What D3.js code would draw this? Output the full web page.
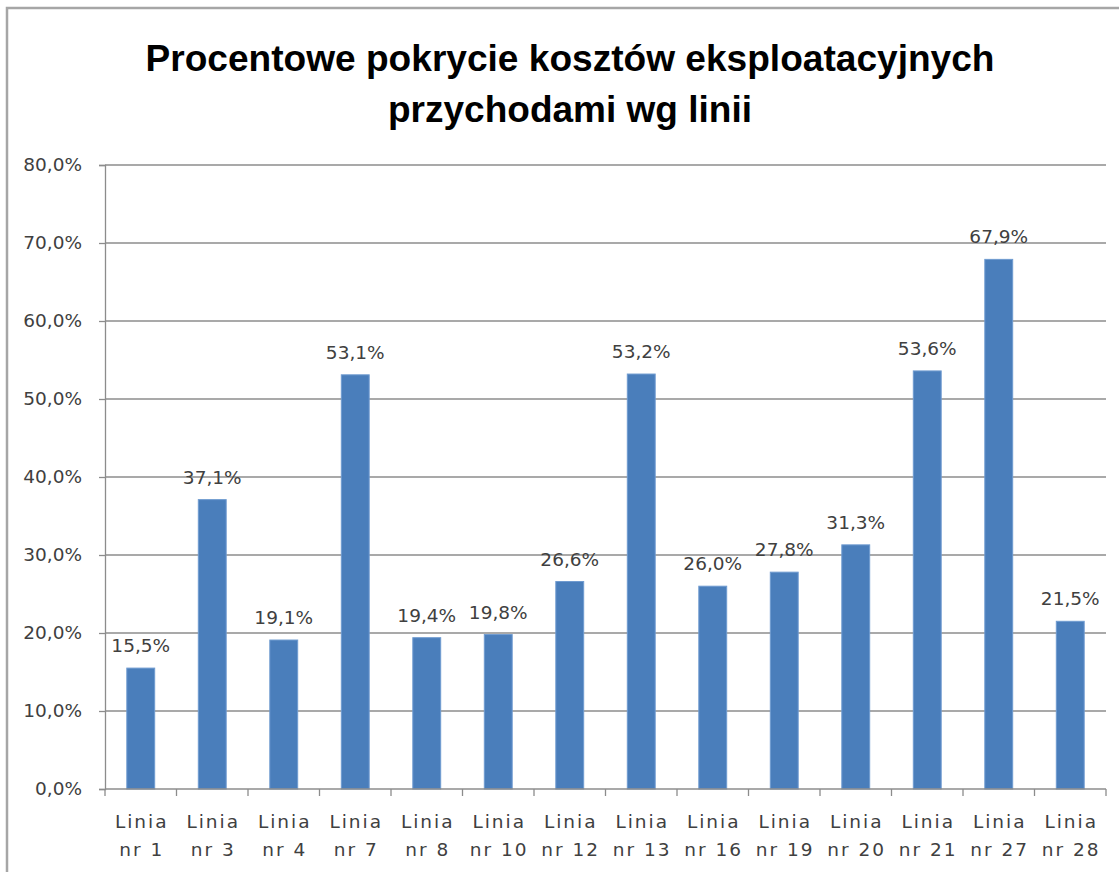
<!DOCTYPE html>
<html>
<head>
<meta charset="utf-8">
<script src="https://cdn.jsdelivr.net/npm/d3@7"></script>
<style>
  html, body { margin: 0; padding: 0; background: #fff; }
  svg { display: block; }
</style>
</head>
<body>
<svg id="chart" width="1119" height="872"></svg>
<script>
const titleLines = ["Procentowe pokrycie kosztów eksploatacyjnych", "przychodami wg linii"];
const categories = ["nr 1", "nr 3", "nr 4", "nr 7", "nr 8", "nr 10", "nr 12", "nr 13", "nr 16", "nr 19", "nr 20", "nr 21", "nr 27", "nr 28"];
const values = [15.5, 37.1, 19.1, 53.1, 19.4, 19.8, 26.6, 53.2, 26.0, 27.8, 31.3, 53.6, 67.9, 21.5];
const yTicks = [0, 10, 20, 30, 40, 50, 60, 70, 80];

(function () {
const svg = d3.select("#chart");
const pLeft = 105, pRight = 1106, pTop = 165, pBottom = 789;

const fmt = v => v.toFixed(1).replace(".", ",") + "%";

// outer frame
svg.append("rect").attr("x", 7).attr("y", 8).attr("width", 1300).attr("height", 1000)
  .attr("fill", "#fff").attr("stroke", "#a6a6a6").attr("stroke-width", 2.5);

// title
const titleYs = [71, 122];
const titleLens = [849, 364];
titleLines.forEach((t, i) => {
  svg.append("text").attr("x", 570).attr("y", titleYs[i])
    .attr("text-anchor", "middle")
    .attr("font-family", "'Liberation Sans Narrow', 'Liberation Sans', Arial, sans-serif")
    .attr("font-weight", "bold").attr("font-size", 37).attr("fill", "#000")
    .attr("textLength", titleLens[i]).attr("lengthAdjust", "spacingAndGlyphs")
    .text(t);
});

const x = d3.scaleBand().domain(categories).range([pLeft, pRight]).paddingInner(0.61).paddingOuter(0.305);
const y = d3.scaleLinear().domain([0, 80]).range([pBottom, pTop]);

// gridlines
svg.append("g").selectAll("line").data(yTicks.filter(d => d > 0)).join("line")
  .attr("x1", pLeft).attr("x2", pRight)
  .attr("y1", d => y(d)).attr("y2", d => y(d))
  .attr("stroke", "#8c8c8c").attr("stroke-width", 1.3);

// y axis
const yAxis = svg.append("g").attr("transform", `translate(${pLeft},0)`)
  .call(d3.axisLeft(y).tickValues(yTicks).tickFormat(fmt).tickSize(6).tickPadding(17));
yAxis.select(".domain").attr("stroke", "#8c8c8c").attr("stroke-width", 1.3);
yAxis.selectAll(".tick line").attr("stroke", "#8c8c8c").attr("stroke-width", 1.3);
yAxis.selectAll(".tick text").attr("font-family", "'DejaVu Sans', Verdana, sans-serif")
  .attr("font-size", 18.5).attr("fill", "#404040");

// bars
svg.append("g").selectAll("rect").data(values).join("rect")
  .attr("x", (d, i) => x(categories[i]))
  .attr("y", d => y(d))
  .attr("width", x.bandwidth())
  .attr("height", d => pBottom - y(d))
  .attr("fill", "#4a7ebb").attr("stroke", "#6f9bd0").attr("stroke-width", 1);

// value labels
svg.append("g").selectAll("text").data(values).join("text")
  .attr("x", (d, i) => x(categories[i]) + x.bandwidth() / 2)
  .attr("y", d => y(d) - 16)
  .attr("text-anchor", "middle")
  .attr("font-family", "'DejaVu Sans', Verdana, sans-serif")
  .attr("font-size", 18.5).attr("fill", "#404040")
  .text(d => fmt(d));

// x axis
const xAxisG = svg.append("g");
xAxisG.append("line").attr("x1", pLeft).attr("x2", pRight).attr("y1", pBottom).attr("y2", pBottom)
  .attr("stroke", "#8c8c8c").attr("stroke-width", 1.3);
const boundaries = d3.range(categories.length + 1).map(i => pLeft + i * x.step());
xAxisG.selectAll("line.tk").data(boundaries).join("line").attr("class", "tk")
  .attr("x1", d => d).attr("x2", d => d).attr("y1", pBottom).attr("y2", pBottom + 7)
  .attr("stroke", "#8c8c8c").attr("stroke-width", 1.3);

const lbl = xAxisG.selectAll("text").data(categories).join("text")
  .attr("text-anchor", "middle")
  .attr("font-family", "'DejaVu Sans', Verdana, sans-serif")
  .attr("font-size", 18.5).attr("fill", "#404040")
  .attr("letter-spacing", "2px");
lbl.append("tspan").attr("x", d => x(d) + x.bandwidth() / 2 + 1).attr("y", 828).text("Linia");
lbl.append("tspan").attr("x", d => x(d) + x.bandwidth() / 2 + 1).attr("y", 856).text(d => d);
})();
</script>
</body>
</html>
